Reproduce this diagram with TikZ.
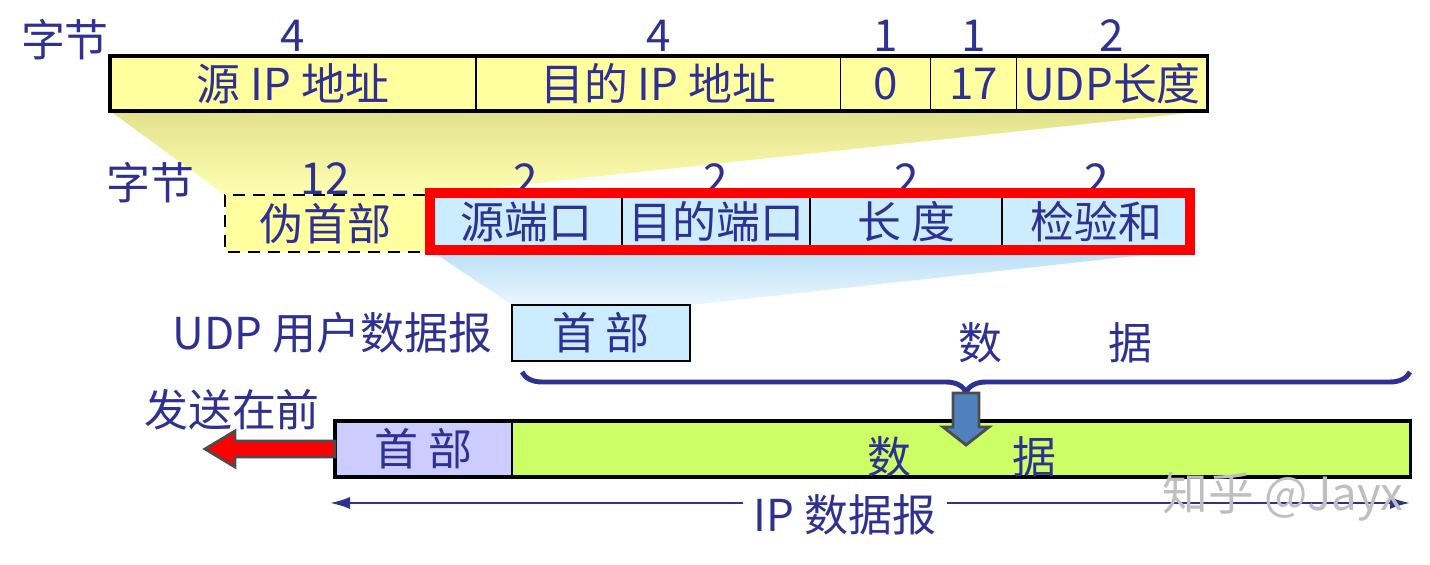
\documentclass[tikz,border=0pt]{standalone}
\usepackage{fontspec}
\setmainfont{Noto Sans CJK SC}
\usetikzlibrary{positioning,arrows.meta,decorations.pathreplacing}
\definecolor{ink}{RGB}{46,49,146}
\definecolor{pale}{RGB}{255,255,160}
\definecolor{sky}{RGB}{204,236,255}
\definecolor{lilac}{RGB}{204,204,255}
\definecolor{lime}{RGB}{204,255,102}
\definecolor{alarm}{RGB}{255,0,0}
\definecolor{steel}{RGB}{79,129,189}
\begin{document}
\begin{tikzpicture}[x=0.01cm,y=-0.01cm,
  every node/.style={text=ink,font=\fontsize{12.5}{14}\selectfont,inner sep=0pt},
  cell/.style={draw=black,line width=0.5pt,outer sep=0pt,minimum height=0.55cm},
  ipcell/.style={cell,fill=pale},
  udpcell/.style={cell,fill=sky,minimum height=0.57cm},
  bytes/.style={above=0.04cm of #1}]
\useasboundingbox (0,0) rectangle (1430,565);
% wedges from the IP row down to the pseudo header and from the UDP header down
\shade[top color={rgb,255:red,225;green,225;blue,140},bottom color=pale!80!white]
  (110,111) -- (1207,111) -- (425,195) -- (225,195) -- cycle;
\shade[top color={rgb,255:red,185;green,222;blue,245},bottom color=sky!40!white]
  (430,250) -- (1190,250) -- (690,305) -- (512,305) -- cycle;
% pseudo header fields
\node[ipcell,anchor=north west,minimum width=3.66cm] (srcip) at (110,56) {源 IP 地址};
\node[ipcell,right=0pt of srcip,minimum width=3.64cm] (dstip) {目的 IP 地址};
\node[ipcell,right=0pt of dstip,minimum width=0.90cm] (zero) {0};
\node[ipcell,right=0pt of zero,minimum width=0.86cm] (proto) {17};
\node[ipcell,right=0pt of proto,minimum width=1.91cm] (udplen) {UDP长度};
\draw[line width=1pt] (srcip.north west) rectangle (udplen.south east);
\node (bytesa) at (65,40) {字节};
\node[bytes=srcip] (na) {4};
\node[bytes=dstip] (nb) {4};
\node[bytes=zero] (nc) {1};
\node[bytes=proto] (nd) {1};
\node[bytes=udplen] (ne) {2};
% UDP header
\node (bytesb) at (150,183) {字节};
\node[cell,fill=pale,draw=none,anchor=north west,minimum width=2.00cm,minimum height=0.57cm] (pseudo) at (225,195) {伪首部};
\draw[line width=0.8pt,dash pattern=on 0.12cm off 0.08cm] (pseudo.north east) -- (pseudo.north west) -- (pseudo.south west) -- (pseudo.south east);
\node[udpcell,anchor=north west,minimum width=1.92cm] (srcport) at (430,193) {源端口};
\node[udpcell,right=0pt of srcport,minimum width=1.88cm] (dstport) {目的端口};
\node[udpcell,right=0pt of dstport,minimum width=1.92cm] (length) {长\ 度};
\node[udpcell,right=0pt of length,minimum width=1.88cm] (checksum) {检验和};
\node[above=0pt of pseudo] (nf) {12};
\node[above=-0.03cm of srcport] (ng) {2};
\node[above=-0.03cm of dstport] (nh) {2};
\node[above=-0.03cm of length] (ni) {2};
\node[above=-0.03cm of checksum] (nj) {2};
\draw[alarm,line width=2.85pt] (srcport.north west) rectangle (checksum.south east);
% UDP user datagram
\node[cell,fill=sky,anchor=north west,minimum width=1.78cm,minimum height=0.56cm] (udphdr) at (512,305) {首\ 部};
\node[left=0.19cm of udphdr] (udpname) {UDP 用户数据报};
\node (udpdata) at (1055,343) {数\hspace{1.06cm}据};
\coordinate (bracel) at (522,372);
\coordinate (bracer) at (1410,372);
\coordinate (bracetip) at (966,393);
\draw[ink,line width=1.4pt,decorate,decoration={brace,mirror,amplitude=0.2cm}] (bracel) -- (bracer);
% IP datagram
\node[cell,fill=lilac,anchor=north west,minimum width=1.77cm,minimum height=0.56cm] (iphdr) at (335,421) {首\ 部};
\node[cell,fill=lime,right=0pt of iphdr,minimum width=8.98cm,minimum height=0.56cm] (ipdata) {};
\draw[line width=1pt] (iphdr.north west) rectangle (ipdata.south east);
\node (ipdatatext) at (962,457) {数\hspace{1.01cm}据};
\draw[draw=black!70,fill=steel,line width=0.8pt] (bracetip) ++(-13,0) -- ++(26,0) -- ++(0,34) -- ++(10,0) -- ++(-23,18) -- ++(-23,-18) -- ++(10,0) -- cycle;
\node (first) at (232,410) {发送在前};
\draw[draw=black!70,fill=alarm,line width=0.8pt] (iphdr.west) ++(0,-8) -- ++(-100,0) -- ++(0,-10) -- ++(-30,18) -- ++(30,18) -- ++(0,-10) -- ++(100,0) -- cycle;
% length of the IP datagram
\coordinate (diml) at (330,503);
\coordinate (dimr) at (1410,503);
\node[inner xsep=0.1cm] (ipname) at (845,515) {IP 数据报};
\draw[ink,line width=0.6pt,-{Latex[length=0.2cm,width=0.12cm]}] (ipname.west |- diml) -- (diml);
\draw[ink,line width=0.6pt,-{Latex[length=0.2cm,width=0.12cm]}] (ipname.east |- dimr) -- (dimr);
\node[text=black!25,font=\fontsize{13}{14}\selectfont] (mark) at (1283,497) {知乎 @Jayx};
\end{tikzpicture}
\end{document}
